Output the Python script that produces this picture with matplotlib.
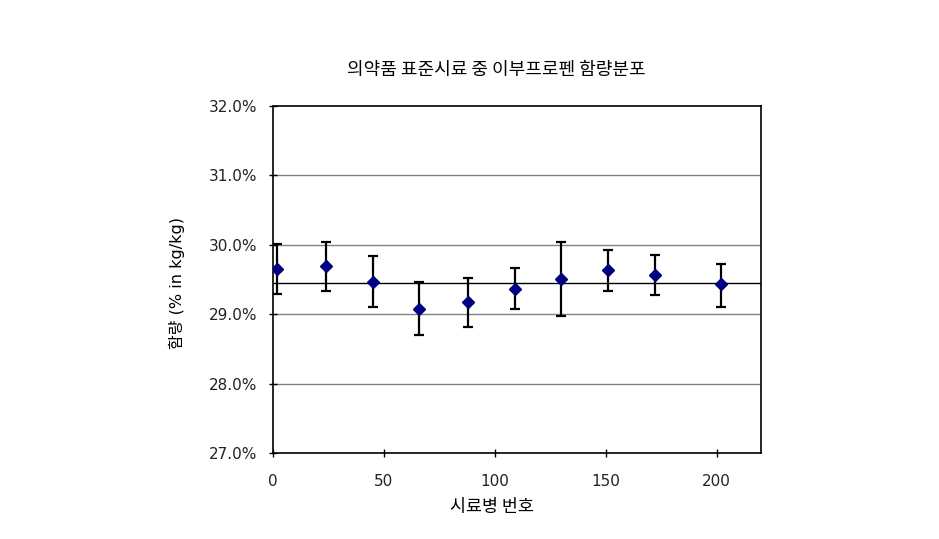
import matplotlib
matplotlib.use("Agg")
import matplotlib.pyplot as plt
from matplotlib.ticker import FuncFormatter

plt.rcParams['font.family'] = ['DejaVu Sans', 'Noto Sans CJK KR']

title = "의약품 표준시료 중 이부프로펜 함량분포"
xlabel = "시료병 번호"
ylabel = "함량 (% in kg/kg)"

sample_no = [2, 24, 45, 66, 88, 109, 130, 151, 172, 202]
content = [29.65, 29.70, 29.47, 29.08, 29.17, 29.37, 29.51, 29.63, 29.57, 29.43]
err_up = [0.355, 0.345, 0.365, 0.385, 0.35, 0.295, 0.53, 0.29, 0.285, 0.295]
err_dn = [0.355, 0.365, 0.36, 0.385, 0.355, 0.30, 0.53, 0.29, 0.30, 0.325]
mean_value = 29.45

xticks = [0, 50, 100, 150, 200]
yticks = [27, 28, 29, 30, 31, 32]

fig = plt.figure(figsize=(9.39, 5.39), dpi=100)
ax = fig.add_axes([273/939, 1-453/539, 488/939, 347/539])

for y in yticks[1:-1]:
    ax.axhline(y, color='#808080', lw=1.0, zorder=1)
ax.axhline(mean_value, color='black', lw=1.0, zorder=2)

ax.errorbar(sample_no, content, yerr=[err_dn, err_up], fmt='D', color='#000080',
            markersize=6, ecolor='black', elinewidth=1.6, capsize=3.5, capthick=1.6,
            zorder=3)

ax.set_xlim(0, 220)
ax.set_ylim(27, 32)
ax.set_xticks(xticks)
ax.set_yticks(yticks)
ax.yaxis.set_major_formatter(FuncFormatter(lambda v, p: f"{v:.1f}%"))
ax.tick_params(axis='both', direction='inout', length=6, width=1, labelsize=11,
               colors='black', labelcolor='#222222')
ax.tick_params(axis='x', pad=12)
ax.tick_params(axis='y', pad=8)
for s in ax.spines.values():
    s.set_linewidth(1.2)
    s.set_color('black')

fig.text(496/939, 1-70/539, title, ha='center', va='center', fontsize=13,
         family=['Noto Sans CJK KR', 'DejaVu Sans'])
fig.text(492/939, 1-507/539, xlabel, ha='center', va='center', fontsize=12.5,
         family=['Noto Sans CJK KR', 'DejaVu Sans'])
fig.text(177/939, 1-283/539, ylabel, ha='center', va='center', fontsize=11.5,
         rotation=90, family=['DejaVu Sans', 'Noto Sans CJK KR'])

fig.savefig("out.png", dpi=100)
